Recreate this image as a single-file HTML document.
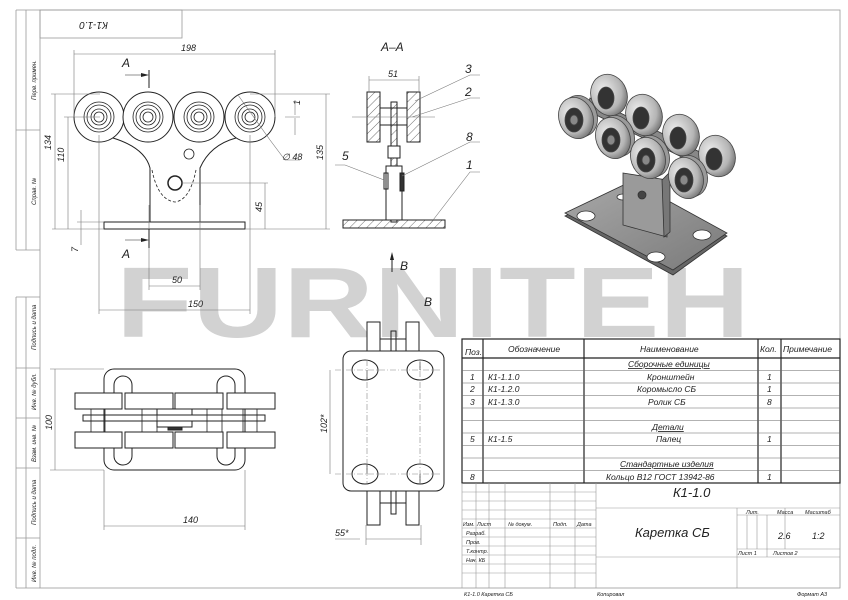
<!DOCTYPE html>
<html><head><meta charset="utf-8"><style>
html,body{margin:0;padding:0;background:#fff;}
svg{display:block;}
text{font-family:"Liberation Sans",sans-serif;font-style:italic;fill:#222;}
</style></head><body>
<svg width="848" height="600" viewBox="0 0 848 600" xmlns="http://www.w3.org/2000/svg">
<defs>
<pattern id="h" width="6" height="6" patternUnits="userSpaceOnUse" patternTransform="rotate(45)"><line x1="0" y1="0" x2="0" y2="6" stroke="#333" stroke-width="0.7"/></pattern>
<radialGradient id="wg" cx="40%" cy="35%" r="70%"><stop offset="0" stop-color="#eeeeee"/><stop offset="0.7" stop-color="#b5b5b5"/><stop offset="1" stop-color="#6e6e6e"/></radialGradient>
<linearGradient id="pg" x1="0" y1="0" x2="1" y2="1"><stop offset="0" stop-color="#a8a8a8"/><stop offset="1" stop-color="#7a7a7a"/></linearGradient>
</defs>
<rect width="848" height="600" fill="#fff"/>
<text x="116" y="337" font-size="100" font-weight="bold" textLength="634" lengthAdjust="spacingAndGlyphs" style="fill:#d2d2d2;font-style:normal">FURNITEH</text>

<g fill="none" stroke="#555" stroke-width="0.8">
<rect x="40" y="10" width="800" height="578" stroke="#999"/>
<rect x="40" y="10" width="142" height="28" stroke="#999"/>
<path d="M16 10V250M26 10V250M16 10H40M16 130H40M16 250H40" stroke="#999"/>
<path d="M16 297V588M26 297V588M16 297H40M16 368H40M16 418H40M16 468H40M16 538H40M16 588H40" stroke="#999"/>
</g>
<text x="112" y="28" font-size="10" transform="rotate(180 110 25)">К1-1.0</text>
<g font-size="6" fill="#444">
<text transform="translate(36 100) rotate(-90)">Перв. примен.</text>
<text transform="translate(36 205) rotate(-90)">Справ. №</text>
<text transform="translate(36 350) rotate(-90)">Подпись и дата</text>
<text transform="translate(36 410) rotate(-90)">Инв. № дубл.</text>
<text transform="translate(36 462) rotate(-90)">Взам. инв. №</text>
<text transform="translate(36 525) rotate(-90)">Подпись и дата</text>
<text transform="translate(36 582) rotate(-90)">Инв. № подл.</text>
</g>

<!-- FRONT VIEW -->
<g fill="none" stroke="#222" stroke-width="1">
<path d="M113 138 Q145 148 150 168 V222 H200 V168 Q210 145 236 138"/>
<circle cx="99" cy="117" r="25" fill="#fff"/><circle cx="148" cy="117" r="25" fill="#fff"/><circle cx="199" cy="117" r="25" fill="#fff"/><circle cx="250" cy="117" r="25" fill="#fff"/>
<g stroke-width="0.8">
<circle cx="99" cy="117" r="15"/><circle cx="99" cy="117" r="12"/><circle cx="99" cy="117" r="8"/><circle cx="99" cy="117" r="5"/>
<circle cx="148" cy="117" r="15"/><circle cx="148" cy="117" r="12"/><circle cx="148" cy="117" r="8"/><circle cx="148" cy="117" r="5"/>
<circle cx="199" cy="117" r="15"/><circle cx="199" cy="117" r="12"/><circle cx="199" cy="117" r="8"/><circle cx="199" cy="117" r="5"/>
<circle cx="250" cy="117" r="15"/><circle cx="250" cy="117" r="12"/><circle cx="250" cy="117" r="8"/><circle cx="250" cy="117" r="5"/>
<circle cx="189" cy="154" r="5"/><circle cx="175" cy="183" r="7" stroke-width="1.5"/>
<path d="M152 170 Q158 200 175 202 Q190 200 196 170" stroke-dasharray="3 2"/>
</g>
<rect x="104" y="222" width="141" height="7"/>
</g>
<g fill="none" stroke="#777" stroke-width="0.6">
<path d="M74 54H275M74 50V117M275 50V117M55 94V229M51 94H100M68 117V229M64 117H100M52 229H104M326 94V229M250 94H330M245 229H330M265 183V229M182 183H268M81 210V245M77 222H104M149 205V290M200 205V290M149 286H200M99 135V314M250 135V314M99 310H250M285 117H300M295 100V115M295 118V135M238 95L270 140L285 160H300"/>
<path d="M149 70V88M149 229V248" stroke="#222" stroke-width="1"/>
<path d="M125 75H147M125 240H147" stroke="#222"/>
</g>
<g fill="#222"><path d="M149 75l-8-2v4z"/><path d="M149 240l-8-2v4z"/></g>
<g font-size="9">
<text x="181" y="51">198</text>
<text x="122" y="67" font-size="12">A</text><text x="122" y="258" font-size="12">A</text>
<text transform="translate(51 150) rotate(-90)">134</text>
<text transform="translate(64 162) rotate(-90)">110</text>
<text transform="translate(323 160) rotate(-90)">135</text>
<text transform="translate(262 212) rotate(-90)">45</text>
<text transform="translate(78 252) rotate(-90)">7</text>
<text transform="translate(300 105) rotate(-90)">1</text>
<text x="282" y="160">∅ 48</text>
<text x="172" y="283">50</text>
<text x="188" y="307">150</text>
</g>

<!-- SECTION A-A -->
<text x="381" y="51" font-size="12">A–A</text>
<g fill="none" stroke="#222" stroke-width="1">
<rect x="367" y="92" width="13" height="50" fill="url(#h)"/>
<rect x="407" y="92" width="13" height="50" fill="url(#h)"/>
<rect x="380" y="108" width="27" height="17" fill="#fff"/>
<rect x="391" y="102" width="6" height="120" fill="url(#h)"/>
<rect x="388" y="146" width="12" height="12" fill="#fff"/>
<rect x="386" y="166" width="16" height="54" fill="#fff"/>
<rect x="384" y="173" width="4" height="16"/><rect x="400" y="173" width="4" height="18" fill="#333"/>
<rect x="343" y="220" width="102" height="8" fill="url(#h)"/>
</g>
<g fill="none" stroke="#777" stroke-width="0.6">
<path d="M352 117H435M369 80H419M369 76V92M419 76V92M415 101L470 75H480M412 117L470 98H480M402 176L470 142H480M384 180L345 165H335M430 224L470 172H480"/>
</g>
<g font-size="12"><text x="388" y="77" font-size="9">51</text><text x="465" y="73">3</text><text x="465" y="96">2</text><text x="466" y="141">8</text><text x="342" y="160">5</text><text x="466" y="169">1</text>
<text x="400" y="270">B</text><text x="424" y="306">B</text></g>
<path d="M392 272V254" stroke="#222"/><path d="M392 252l-2 8h4z" fill="#222"/>

<!-- 3D -->
<g stroke="#333" stroke-width="0.8">
<path d="M565 213 L632 181 L727 233 L673 272 Z" fill="#666" transform="translate(0 3)"/>
<path d="M565 213 L632 181 L727 233 L673 270 Z" fill="url(#pg)"/>
<ellipse cx="586" cy="216" rx="9" ry="5" fill="#fff"/><ellipse cx="702" cy="235" rx="9" ry="5" fill="#fff"/><ellipse cx="656" cy="257" rx="9" ry="5" fill="#fff"/><ellipse cx="623" cy="197" rx="6" ry="3" fill="#fff"/>
<path d="M623 173 L667 180 L667 237 L623 225 Z" fill="#9a9a9a"/>
<path d="M662 180 L670 172 L670 232 L664 237 Z" fill="#777"/>
<circle cx="642" cy="195" r="4" fill="#444"/>
<path d="M590 98 L716 160 L712 172 L586 110 Z" fill="#888"/>
</g>
<g stroke="#444" stroke-width="0.8">
<g fill="url(#wg)">
<ellipse cx="609" cy="95" rx="18" ry="21" transform="rotate(-20 609 95)"/>
<ellipse cx="644" cy="115" rx="18" ry="21" transform="rotate(-20 644 115)"/>
<ellipse cx="681" cy="135" rx="18" ry="21" transform="rotate(-20 681 135)"/>
<ellipse cx="717" cy="156" rx="18" ry="21" transform="rotate(-20 717 156)"/>
</g>
<g fill="#333"><ellipse cx="606" cy="98" rx="8" ry="11"/><ellipse cx="641" cy="118" rx="8" ry="11"/><ellipse cx="678" cy="138" rx="8" ry="11"/><ellipse cx="714" cy="159" rx="8" ry="11"/></g>
<g fill="#9a9a9a">
<ellipse cx="580" cy="116" rx="17" ry="21" transform="rotate(-20 580 116)"/>
<ellipse cx="617" cy="136" rx="17" ry="21" transform="rotate(-20 617 136)"/>
<ellipse cx="652" cy="156" rx="17" ry="21" transform="rotate(-20 652 156)"/>
<ellipse cx="690" cy="176" rx="17" ry="21" transform="rotate(-20 690 176)"/>
</g>
<g fill="url(#wg)">
<ellipse cx="576" cy="118" rx="17" ry="21" transform="rotate(-20 576 118)"/>
<ellipse cx="613" cy="138" rx="17" ry="21" transform="rotate(-20 613 138)"/>
<ellipse cx="648" cy="158" rx="17" ry="21" transform="rotate(-20 648 158)"/>
<ellipse cx="686" cy="178" rx="17" ry="21" transform="rotate(-20 686 178)"/>
</g>
<g fill="#333">
<ellipse cx="574" cy="120" rx="9" ry="12"/><ellipse cx="611" cy="140" rx="9" ry="12"/><ellipse cx="646" cy="160" rx="9" ry="12"/><ellipse cx="684" cy="180" rx="9" ry="12"/>
</g>
<g fill="#888"><ellipse cx="574" cy="120" rx="4" ry="5"/><ellipse cx="611" cy="140" rx="4" ry="5"/><ellipse cx="646" cy="160" rx="4" ry="5"/><ellipse cx="684" cy="180" rx="4" ry="5"/></g>
</g>

<!-- BOTTOM LEFT VIEW -->
<g fill="none" stroke="#222" stroke-width="1">
<rect x="104" y="369" width="141" height="101" rx="10" fill="#fff"/>
<path d="M114 393V385a9 9 0 0 1 18 0V393M217 393V385a9 9 0 0 1 18 0V393M114 448V456a9 9 0 0 0 18 0V448M217 448V456a9 9 0 0 0 18 0V448"/>
<g fill="#fff">
<rect x="75" y="393" width="47" height="16"/><rect x="125" y="393" width="48" height="16"/><rect x="175" y="393" width="48" height="16"/><rect x="227" y="393" width="48" height="16"/>
<rect x="75" y="432" width="47" height="16"/><rect x="125" y="432" width="48" height="16"/><rect x="175" y="432" width="48" height="16"/><rect x="227" y="432" width="48" height="16"/>
</g>
<path d="M91 409V432M105 409V432M142 409V432M157 409V432M207 409V432M222 409V432M243 409V432M257 409V432" stroke-width="0.8"/>
<rect x="83" y="415" width="182" height="6"/>
<rect x="157" y="409" width="35" height="6"/><rect x="157" y="421" width="35" height="6"/>
<rect x="168" y="427" width="14" height="3" fill="#333"/>
</g>
<g fill="none" stroke="#777" stroke-width="0.6">
<path d="M55 369V470M50 369H104M50 470H104M104 470V530M245 470V530M104 526H245"/>
</g>
<g font-size="9"><text transform="translate(52 430) rotate(-90)">100</text><text x="183" y="523">140</text></g>

<!-- VIEW B -->
<g fill="none" stroke="#222" stroke-width="1">
<rect x="367" y="322" width="13" height="30" fill="#fff"/><rect x="406" y="322" width="13" height="30" fill="#fff"/>
<rect x="367" y="490" width="13" height="35" fill="#fff"/><rect x="406" y="490" width="13" height="35" fill="#fff"/>
<path d="M380 339H406M380 503H406"/><rect x="391" y="331" width="5" height="21"/><rect x="391" y="490" width="5" height="24"/>
<rect x="343" y="351" width="101" height="140" rx="8" fill="#fff"/>
<ellipse cx="365" cy="370" rx="13" ry="10"/><ellipse cx="420" cy="370" rx="13" ry="10"/>
<ellipse cx="365" cy="474" rx="13" ry="10"/><ellipse cx="420" cy="474" rx="13" ry="10"/>
<path d="M367 370V380M367 464V474M420 362V370M420 474V484" stroke-width="0.7"/>
</g>
<g fill="none" stroke="#888" stroke-width="0.6" stroke-dasharray="6 2 1 2">
<path d="M335 370H440M335 474H440M367 360V484M420 360V484"/>
</g>
<g fill="none" stroke="#777" stroke-width="0.6"><path d="M330 370V474M366 525V545M421 525V545M366 539H421M335 539H360"/></g>
<g font-size="9"><text transform="translate(327 433) rotate(-90)">102*</text><text x="335" y="536">55*</text></g>

<!-- TABLE -->
<g fill="none" stroke="#222" stroke-width="0.8">
<rect x="462" y="339" width="378" height="144" stroke-width="1.2"/>
<path d="M462 358H840" stroke-width="1.2"/>
<path d="M483 339V483M584 339V483M758 339V483M781 339V483" stroke-width="1.2"/>
<path d="M462 370.5H840M462 383H840M462 395.5H840M462 408H840M462 420.5H840M462 433H840M462 445.5H840M462 458H840M462 470.5H840" stroke="#666" stroke-width="0.6"/>
</g>
<g font-size="8.5">
<text x="465" y="355">Поз.</text><text x="508" y="352">Обозначение</text><text x="640" y="352">Наименование</text><text x="760" y="352">Кол.</text><text x="783" y="352">Примечание</text>
<text x="628" y="367" text-decoration="underline">Сборочные единицы</text>
<text x="470" y="380">1</text><text x="488" y="380">К1-1.1.0</text><text x="647" y="380">Кронштейн</text><text x="767" y="380">1</text>
<text x="470" y="392">2</text><text x="488" y="392">К1-1.2.0</text><text x="637" y="392">Коромысло СБ</text><text x="767" y="392">1</text>
<text x="470" y="405">3</text><text x="488" y="405">К1-1.3.0</text><text x="648" y="405">Ролик СБ</text><text x="767" y="405">8</text>
<text x="652" y="430" text-decoration="underline">Детали</text>
<text x="470" y="442">5</text><text x="488" y="442">К1-1.5</text><text x="656" y="442">Палец</text><text x="767" y="442">1</text>
<text x="620" y="467" text-decoration="underline">Стандартные изделия</text>
<text x="470" y="480">8</text><text x="606" y="480">Кольцо В12  ГОСТ 13942-86</text><text x="767" y="480">1</text>
</g>
<g fill="none" stroke="#999" stroke-width="0.6">
<path d="M462 483V588M476 483V588M489 483V588M505 483V588M550 483V588M575 483V588M596 483V588"/>
<path d="M462 492H596M462 501H596M462 510H596M462 519H596M462 528H596M462 537H596M462 546H596M462 555H596M462 564H596M462 573H596"/>
<path d="M596 508H840M737 508V588M785 508V549M737 515H840M737 549H840M737 557H840M596 557H737M747 515V549M757 515V549M767 515V549M767 549V557"/>
</g>
<g font-size="5.5" fill="#444">
<text x="463" y="526">Изм.</text><text x="477" y="526">Лист</text><text x="508" y="526">№ докум.</text><text x="553" y="526">Подп.</text><text x="577" y="526">Дата</text>
<text x="466" y="535">Разраб.</text><text x="466" y="544">Пров.</text><text x="466" y="553">Т.контр.</text><text x="466" y="562">Нач. КБ</text>
<text x="746" y="514">Лит.</text><text x="777" y="514">Масса</text><text x="805" y="514">Масштаб</text>
<text x="738" y="555">Лист 1</text><text x="773" y="555">Листов 2</text>
<text x="464" y="596">К1-1.0 Каретка СБ</text><text x="597" y="596">Копировал</text><text x="797" y="596">Формат А3</text>
</g>
<text x="673" y="497" font-size="13">К1-1.0</text>
<text x="635" y="537" font-size="13">Каретка СБ</text>
<text x="778" y="539" font-size="9">2.6</text><text x="812" y="539" font-size="9">1:2</text>
</svg>
</body></html>
